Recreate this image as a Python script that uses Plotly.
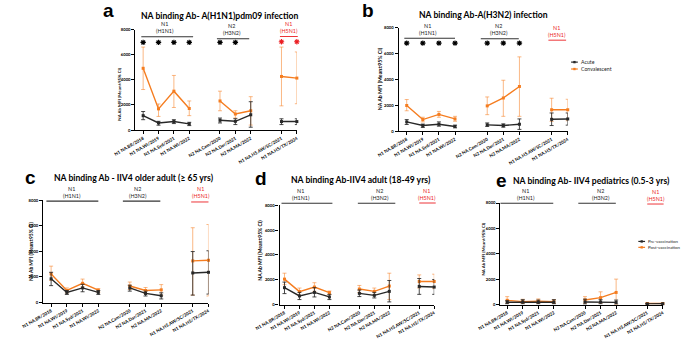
import plotly.graph_objects as go

W, H = 685, 340

categories = ["N1 NA.BR/2018", "N1 NA.WI/2019", "N1 NA.Syd/2021", "N1 NA.WI/2022",
              "N2 NA.Cam/2020", "N2 NA.Dar/2021", "N2 NA.MA/2022",
              "N1 NA.H5.AW/SC/2021", "N1 NA.H5/TX/2024"]
# category slots on the axis (gaps between NA groups)
cat_slots = [0, 1, 2, 3, 5, 6, 7, 9, 10]

# Panel a: A(H1N1)pdm09 infection
a_acute = [1150, 570, 680, 500, 780, 700, 1220, 680, 680]
a_acute_lo = [830, 390, 520, 360, 570, 440, 230, 440, 440]
a_acute_hi = [1480, 700, 830, 620, 960, 910, 2260, 900, 900]
a_conv = [4920, 1690, 3100, 1720, 2320, 1280, 1540, 4270, 4140]
a_conv_lo = [3230, 1090, 1800, 1150, 1540, 960, 400, 1930, 2100]
a_conv_hi = [6610, 2080, 4350, 2320, 3100, 1540, 2660, 6610, 6220]

# Panel b: A(H3N2) infection
b_acute = [710, 430, 530, 360, 480, 430, 530, 910, 940]
b_acute_lo = [510, 280, 380, 250, 360, 300, 130, 430, 460]
b_acute_hi = [890, 540, 710, 460, 630, 560, 940, 1400, 1400]
b_conv = [1980, 890, 1290, 940, 1950, 2560, 3450, 1650, 1650]
b_conv_lo = [1570, 710, 1070, 760, 1270, 1140, 1140, 750, 800]
b_conv_hi = [2440, 1070, 1520, 1140, 2640, 3930, 5740, 2540, 2460]

# Panel c: IIV4 older adult (>= 65 yrs)
c_pre = [1850, 790, 1140, 790, 1140, 710, 530, 2310, 2360]
c_pre_lo = [1320, 630, 840, 630, 890, 510, 280, 580, 660]
c_pre_hi = [2360, 940, 1420, 940, 1350, 890, 760, 3980, 4040]
c_post = [2230, 940, 1500, 960, 1290, 940, 990, 3250, 3300]
c_post_lo = [1730, 750, 1220, 810, 1020, 710, 560, 580, 510]
c_post_hi = [2840, 1140, 1830, 1090, 1600, 1170, 1400, 5840, 6090]

# Panel d: IIV4 adult (18-49 yrs)
d_pre = [1360, 690, 980, 610, 900, 740, 1060, 1460, 1410]
d_pre_lo = [880, 400, 610, 400, 640, 530, 210, 820, 820]
d_pre_hi = [1810, 980, 1360, 820, 1170, 980, 1940, 2100, 2020]
d_post = [2050, 1040, 1410, 960, 1250, 1060, 1490, 1860, 1860]
d_post_lo = [1600, 740, 1060, 800, 960, 800, 400, 1330, 1280]
d_post_hi = [2530, 1330, 1760, 1090, 1540, 1330, 2530, 2390, 2450]

# Panel e: IIV4 pediatrics (0.5-3 yrs)
e_pre = [180, 200, 180, 180, 200, 200, 170, 50, 60]
e_pre_lo = [50, 50, 50, 50, 30, 50, 30, 20, 20]
e_pre_hi = [300, 380, 350, 380, 420, 380, 350, 80, 90]
e_post = [330, 230, 260, 230, 360, 540, 950, 80, 80]
e_post_lo = [100, 80, 90, 80, 100, 100, 0, 40, 40]
e_post_hi = [620, 410, 440, 390, 620, 1000, 2000, 120, 120]

y_ticks = [0, 2000, 4000, 6000, 8000]
ORANGE = "rgb(245,125,32)"
ORANGE_ERR = "rgba(245,125,32,0.55)"
BLACK = "rgb(40,40,40)"
BLACK_ERR = "rgba(40,40,40,0.85)"
RED = "rgb(235,30,35)"

# panel geometry in pixels: (x_left, x_right, y_top(8000), y_bottom(0), x_range_min)
panels = {
    "a": dict(px=(115, 283), py=(27, 129), r0=-0.5),
    "b": dict(px=(389, 565), py=(25, 130), r0=-0.5),
    "c": dict(px=(19, 191), py=(200, 304), r0=-0.5),
    "d": dict(px=(265, 426), py=(205.5, 306), r0=-0.33),
    "e": dict(px=(495, 664), py=(203, 306), r0=-0.43),
}
X1 = 10
YMAX = 8000
names = ["a", "b", "c", "d", "e"]

def pxx(p, v):
    g = panels[p]
    x0, x1 = g["px"]
    return (x0 + (v - g["r0"]) / (X1 - g["r0"]) * (x1 - x0)) / W

def pyy(p, v):
    g = panels[p]
    yt, yb = g["py"]
    return 1 - (yb - v / YMAX * (yb - yt)) / H

fig = go.Figure()
layout = dict(width=W, height=H, margin=dict(l=0, r=0, t=0, b=0),
              paper_bgcolor="white", plot_bgcolor="white", showlegend=False)

axis_font = dict(family="Lato", size=4.5, color="black", weight="bold")
for i, p in enumerate(names):
    g = panels[p]
    sx = "" if i == 0 else str(i + 1)
    layout["xaxis" + sx] = dict(
        domain=[g["px"][0] / W, g["px"][1] / W], range=[g["r0"], X1],
        anchor="y" + sx, tickvals=cat_slots, ticktext=categories, tickangle=-30,
        showline=True, linecolor="black", linewidth=1.2, ticks="outside", ticklen=3,
        tickwidth=1, tickcolor="black", showgrid=False, zeroline=False,
        tickfont=axis_font, fixedrange=True)
    layout["yaxis" + sx] = dict(
        domain=[1 - g["py"][1] / H, 1 - g["py"][0] / H], range=[0, YMAX],
        anchor="x" + sx, tickvals=y_ticks, showline=True, linecolor="black",
        linewidth=1.2, ticks="outside", ticklen=3, tickwidth=1, tickcolor="black",
        showgrid=False, zeroline=False, tickfont=dict(family="Lato", size=4.2, color="black", weight="bold"),
        fixedrange=True)

series = {
    "a": [(a_conv, a_conv_lo, a_conv_hi, "o"), (a_acute, a_acute_lo, a_acute_hi, "k")],
    "b": [(b_conv, b_conv_lo, b_conv_hi, "o"), (b_acute, b_acute_lo, b_acute_hi, "k")],
    "c": [(c_post, c_post_lo, c_post_hi, "o"), (c_pre, c_pre_lo, c_pre_hi, "k")],
    "d": [(d_post, d_post_lo, d_post_hi, "o"), (d_pre, d_pre_lo, d_pre_hi, "k")],
    "e": [(e_post, e_post_lo, e_post_hi, "o"), (e_pre, e_pre_lo, e_pre_hi, "k")],
}
groups = [(0, 4), (4, 7), (7, 9)]
for i, p in enumerate(names):
    sx = "" if i == 0 else str(i + 1)
    for vals, lo, hi, c in series[p]:
        col = ORANGE if c == "o" else BLACK
        ecol = ORANGE_ERR if c == "o" else BLACK_ERR
        for s, e in groups:
            xs = cat_slots[s:e]
            ys = vals[s:e]
            fig.add_trace(go.Scatter(
                x=xs, y=ys, mode="lines+markers", xaxis="x" + sx, yaxis="y" + sx,
                line=dict(color=col, width=1.4),
                marker=dict(symbol="square", size=3, color=col),
                error_y=dict(type="data", symmetric=False,
                             array=[h - v for h, v in zip(hi[s:e], ys)],
                             arrayminus=[v - l for v, l in zip(ys, lo[s:e])],
                             color=ecol, thickness=1, width=2),
                cliponaxis=False, hoverinfo="skip"))

# significance stars
star_slots_a_black = [0, 1, 2, 3, 5, 6]
star_slots_a_red = [9, 10]
star_slots_b = [0, 1, 2, 3, 5, 6, 7]
for xs, yv, col, ax in [(star_slots_a_black, 6980, "black", ""), (star_slots_a_red, 7030, RED, ""),
                        (star_slots_b, 6800, "black", "2")]:
    fig.add_trace(go.Scatter(x=xs, y=[yv] * len(xs), mode="markers",
                             xaxis="x" + ax, yaxis="y" + ax, cliponaxis=False, hoverinfo="skip",
                             marker=dict(symbol="asterisk-open", size=4.5, color=col,
                                         line=dict(color=col, width=1.1))))

shapes = []
annotations = []
# group brackets: panel -> list of (x_from, x_to, y_line, text_x, label, colour, kind)
brackets = {
    "a": [(-0.12, 3.25, 7430, 1.4, "N1<br>(H1N1)", "#333", "bar"),
          (4.8, 6.9, 7270, 5.75, "N2<br>(H3N2)", "#333", "bar"),
          (8.9, 10.06, 7450, 9.5, "N1<br>(H5N1)", RED, "ul")],
    "b": [(-0.15, 3.0, 7180, 1.3, "N1<br>(H1N1)", "#333", "bar"),
          (4.6, 6.96, 7140, 5.75, "N2<br>(H3N2)", "#333", "bar"),
          (8.8, 9.9, 7030, 9.35, "N1<br>(H5N1)", RED, "ul")],
    "c": [(-0.3, 3.0, 7920, 1.35, "N1<br>(H1N1)", "#333", "bar"),
          (4.56, 6.94, 7920, 5.55, "N2<br>(H3N2)", "#333", "bar"),
          (8.9, 10.0, 7850, 9.5, "N1<br>(H5N1)", RED, "ul")],
    "d": [(-0.2, 3.2, 8180, 1.1, "N1<br>(H1N1)", "#333", "bar"),
          (4.9, 7.4, 8180, 6.35, "N2<br>(H3N2)", "#333", "bar"),
          (9.0, 10.1, 8200, 9.55, "N1<br>(H5N1)", RED, "ul")],
    "e": [(-0.43, 2.96, 7980, 1.23, "N1<br>(H1N1)", "#333", "bar"),
          (4.57, 6.98, 7980, 6.0, "N2<br>(H3N2)", "#333", "bar"),
          (9.0, 10.05, 7920, 9.55, "N1<br>(H5N1)", RED, "ul")],
}
for p, items in brackets.items():
    for x0, x1, yl, tx, label, col, kind in items:
        shapes.append(dict(type="line", xref="paper", yref="paper",
                           x0=pxx(p, x0), x1=pxx(p, x1), y0=pyy(p, yl), y1=pyy(p, yl),
                           line=dict(color=col, width=1.2 if kind == "bar" else 0.9)))
        annotations.append(dict(xref="paper", yref="paper", x=pxx(p, tx), y=pyy(p, yl),
                                yanchor="bottom", xanchor="center", yshift=0.5,
                                text=label, showarrow=False, align="center",
                                font=dict(family="Lato", size=5.4, color=col if kind == "ul" else "#222")))

# titles and panel letters
titles = [
    ("a", "NA binding Ab- A(H1N1)pdm09 infection", 202, 13, 87, 8),
    ("b", "NA binding Ab-A(H3N2) infection", 477, 12, 357, 8),
    ("c", "NA binding Ab - IIV4 older adult (\u2265 65 yrs)", 113, 178, 6, 177),
    ("d", "NA binding Ab-IIV4 adult (18-49 yrs)", 350, 180, 246, 178),
    ("e", "NA binding Ab- IIV4 pediatrics (0.5-3 yrs)", 590, 181, 496, 180),
]
for letter, t, tx, ty, lx, ly in titles:
    annotations.append(dict(xref="paper", yref="paper", x=tx / W, y=1 - ty / H,
                            xanchor="center", yanchor="middle", showarrow=False, text=t,
                            font=dict(family="Lato", size=8.6, color="black", weight="bold")))
    annotations.append(dict(xref="paper", yref="paper", x=lx / W, y=1 - ly / H,
                            xanchor="center", yanchor="middle", showarrow=False, text=letter,
                            font=dict(family="Liberation Sans", size=19, color="black", weight="bold")))

# y axis titles
ytitles = [(99, 92, 4.4), (369, 77, 5.2), (7, 252, 4.9), (245, 251, 5.0), (477, 249, 4.4)]
for x, y, s in ytitles:
    annotations.append(dict(xref="paper", yref="paper", x=x / W, y=1 - y / H, textangle=-90,
                            xanchor="center", yanchor="middle", showarrow=False,
                            text="NA Ab MFI (Mean\u00b195% CI)",
                            font=dict(family="Lato", size=s, color="black", weight="bold")))

# legends (panel b and e)
legends = [
    (572, 60, "Acute", BLACK), (572, 67, "Convalescent", ORANGE),
    (642, 242, "Pre-vaccination", BLACK), (642, 248, "Post-vaccination", ORANGE),
]
for x, y, t, col in legends:
    shapes.append(dict(type="line", xref="paper", yref="paper", x0=(x - 3.5) / W, x1=(x + 3.5) / W,
                       y0=1 - y / H, y1=1 - y / H, line=dict(color=col, width=1.2)))
    shapes.append(dict(type="rect", xref="paper", yref="paper", x0=(x - 1.2) / W, x1=(x + 1.2) / W,
                       y0=1 - (y + 1.2) / H, y1=1 - (y - 1.2) / H, line=dict(width=0), fillcolor=col))
    annotations.append(dict(xref="paper", yref="paper", x=(x + 5) / W, y=1 - y / H,
                            xanchor="left", yanchor="middle", showarrow=False, text=t,
                            font=dict(family="Lato", size=5.2 if y < 100 else 4.4, color="#222")))

layout["shapes"] = shapes
layout["annotations"] = annotations
fig.update_layout(**layout)
fig.write_html("out.html", config={"displayModeBar": False},
               post_script="document.body.style.margin='0px';document.body.style.overflow='hidden';")
